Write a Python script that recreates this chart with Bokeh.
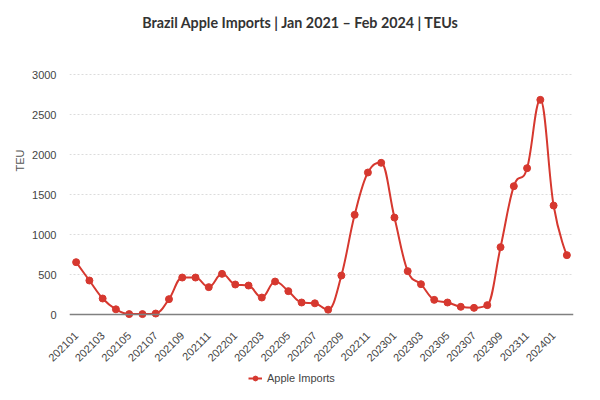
import math
from bokeh.plotting import figure
from bokeh.layouts import column
from bokeh.models import (ColumnDataSource, Range1d, FixedTicker, Span,
                          Legend, LegendItem, Label)
from bokeh.embed import file_html
from bokeh.resources import INLINE

months = ["202101", "202102", "202103", "202104", "202105", "202106",
          "202107", "202108", "202109", "202110", "202111", "202112",
          "202201", "202202", "202203", "202204", "202205", "202206",
          "202207", "202208", "202209", "202210", "202211", "202212",
          "202301", "202302", "202303", "202304", "202305", "202306",
          "202307", "202308", "202309", "202310", "202311", "202312",
          "202401", "202402"]
teu = [654, 425, 200, 65, 5, 5, 12, 192, 462, 462, 342, 508,
       375, 362, 212, 412, 292, 150, 140, 60, 487, 1246, 1775, 1896,
       1212, 542, 379, 183, 150, 96, 83, 117, 842, 1604, 1829, 2683,
       1362, 742]
y_ticks = [0, 500, 1000, 1500, 2000, 2500, 3000]
title = "Brazil Apple Imports | Jan 2021 \u2013 Feb 2024 | TEUs"

RED = "#d6382f"


def spline_controls(xs, ys, smoothing=1.5):
  # highcharts style spline control points, one pair per point
  n = len(xs)
  left, right = [], []
  d = smoothing + 1
  for i in range(n):
    x, y = xs[i], ys[i]
    if i == 0 or i == n - 1:
      left.append((x, y))
      right.append((x, y))
      continue
    lx = (smoothing * x + xs[i-1]) / d
    ly = (smoothing * y + ys[i-1]) / d
    rx = (smoothing * x + xs[i+1]) / d
    ry = (smoothing * y + ys[i+1]) / d
    corr = (ry - ly) * (rx - x) / (rx - lx) + y - ry
    ly += corr
    ry += corr
    if ly > ys[i-1] and ly > y:
      ly = max(ys[i-1], y); ry = 2 * y - ly
    elif ly < ys[i-1] and ly < y:
      ly = min(ys[i-1], y); ry = 2 * y - ly
    if ry > ys[i+1] and ry > y:
      ry = max(ys[i+1], y); ly = 2 * y - ry
    elif ry < ys[i+1] and ry < y:
      ry = min(ys[i+1], y); ly = 2 * y - ry
    left.append((lx, ly))
    right.append((rx, ry))
  return left, right


xs = list(range(len(months)))
left, right = spline_controls(xs, teu)
curve = ColumnDataSource(dict(
  x0=xs[:-1], y0=teu[:-1], x1=xs[1:], y1=teu[1:],
  cx0=[c[0] for c in right[:-1]], cy0=[c[1] for c in right[:-1]],
  cx1=[c[0] for c in left[1:]], cy1=[c[1] for c in left[1:]]))
pts = ColumnDataSource(dict(x=xs, y=teu))

# frame runs up to the top edge so the title can sit inside it
p = figure(width=584, height=372, output_backend="svg", toolbar_location=None,
           x_range=Range1d(-0.5, len(months) - 0.5), y_range=Range1d(-75, 3925),
           min_border_left=69, min_border_right=11, min_border_bottom=52,
           min_border_top=0)
p.outline_line_color = None
p.background_fill_color = "white"

p.add_layout(Label(x=4.98, y=3650, text=title, text_align="left",
                   text_baseline="middle", text_font="Lato",
                   text_font_size="14.3px", text_font_style="bold",
                   text_color="#333333"))

p.xgrid.grid_line_color = None
p.ygrid.grid_line_color = "#dcdcdc"
p.ygrid.grid_line_dash = "2 2"

p.yaxis.ticker = FixedTicker(ticks=y_ticks)
p.yaxis.axis_line_color = None
p.yaxis.major_tick_line_color = None
p.yaxis.major_tick_out = 0
p.yaxis.minor_tick_line_color = None
p.yaxis.minor_tick_out = 0
p.yaxis.major_label_text_font = "Liberation Sans"
p.yaxis.major_label_text_font_size = "11px"
p.yaxis.major_label_text_color = "#444444"
p.yaxis.major_label_standoff = 13
p.yaxis.axis_label = "TEU"
p.yaxis.axis_label_text_font = "Liberation Sans"
p.yaxis.axis_label_text_font_size = "11px"
p.yaxis.axis_label_text_font_style = "normal"
p.yaxis.axis_label_text_color = "#555555"
p.yaxis.axis_label_standoff = 3

p.xaxis.ticker = FixedTicker(ticks=xs[::2])
p.xaxis.major_label_overrides = {i: months[i] for i in xs[::2]}
p.xaxis.major_label_orientation = math.pi / 4
p.xaxis.axis_line_color = None
p.xaxis.major_tick_line_color = None
p.xaxis.major_tick_out = 0
p.xaxis.minor_tick_line_color = None
p.xaxis.minor_tick_out = 0
p.xaxis.major_label_text_font = "Liberation Sans"
p.xaxis.major_label_text_font_size = "11px"
p.xaxis.major_label_text_color = "#444444"
p.xaxis.major_label_standoff = 13

p.add_layout(Span(location=0, dimension="width", line_color="#808080",
                  line_width=1.5))

line_r = p.bezier(x0="x0", y0="y0", x1="x1", y1="y1", cx0="cx0", cy0="cy0",
                  cx1="cx1", cy1="cy1", source=curve, line_color=RED,
                  line_width=2)
dot_r = p.scatter(x="x", y="y", source=pts, size=7, color=RED)

# thin strip under the chart that only holds the legend; its ranges lie
# away from the data so only the legend swatch of these glyphs shows
leg = figure(width=584, height=12, output_backend="svg", toolbar_location=None,
             x_axis_type=None, y_axis_type=None, x_range=Range1d(-10, -9),
             y_range=Range1d(-10, -9), min_border=0)
leg.outline_line_color = None
leg_line = leg.line(x="x", y="y", source=pts, line_color=RED, line_width=2)
leg_dot = leg.scatter(x="x", y="y", source=pts, size=7, color=RED)
legend = Legend(items=[LegendItem(label="Apple Imports",
                                  renderers=[leg_line, leg_dot])],
                location=(179, 0), orientation="horizontal",
                border_line_color=None, background_fill_alpha=0,
                padding=0, margin=0, glyph_width=14, glyph_height=12,
                label_height=12, label_standoff=5,
                label_text_font="Liberation Sans",
                label_text_font_size="11px", label_text_color="#444444")
leg.add_layout(legend, "center")

open("out.html", "w").write(file_html(column(p, leg), INLINE))
